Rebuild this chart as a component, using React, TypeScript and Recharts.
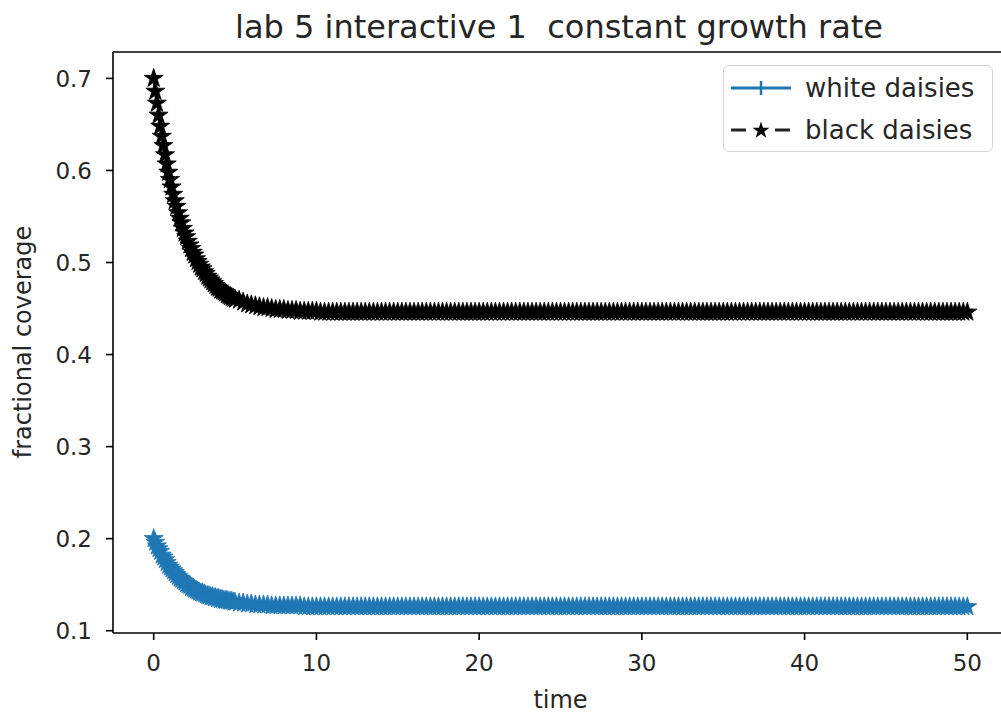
import { LineChart, Line, XAxis, YAxis, ReferenceLine } from 'recharts';

const times = [
  0, 0.1, 0.2, 0.3, 0.4, 0.5, 0.6, 0.7, 0.8, 0.9,
  1, 1.1, 1.2, 1.3, 1.4, 1.5, 1.6, 1.7, 1.8, 1.9,
  2, 2.1, 2.2, 2.3, 2.4, 2.5, 2.6, 2.7, 2.8, 2.9,
  3, 3.1, 3.2, 3.3, 3.4, 3.5, 3.6, 3.7, 3.8, 3.9,
  4, 4.1, 4.2, 4.3, 4.4, 4.5, 4.6, 4.7, 4.8, 4.9,
  5,
  5.25, 5.5, 5.75, 6, 6.25, 6.5, 6.75, 7, 7.25, 7.5,
  7.75, 8, 8.25, 8.5, 8.75, 9, 9.25, 9.5, 9.75, 10,
  10.25, 10.5, 10.75, 11, 11.25, 11.5, 11.75, 12,
  12.25, 12.5, 12.75, 13, 13.25, 13.5, 13.75, 14,
  14.25, 14.5, 14.75, 15, 15.25, 15.5, 15.75, 16,
  16.25, 16.5, 16.75, 17, 17.25, 17.5, 17.75, 18,
  18.25, 18.5, 18.75, 19, 19.25, 19.5, 19.75, 20,
  20.25, 20.5, 20.75, 21, 21.25, 21.5, 21.75, 22,
  22.25, 22.5, 22.75, 23, 23.25, 23.5, 23.75, 24,
  24.25, 24.5, 24.75, 25, 25.25, 25.5, 25.75, 26,
  26.25, 26.5, 26.75, 27, 27.25, 27.5, 27.75, 28,
  28.25, 28.5, 28.75, 29, 29.25, 29.5, 29.75, 30,
  30.25, 30.5, 30.75, 31, 31.25, 31.5, 31.75, 32,
  32.25, 32.5, 32.75, 33, 33.25, 33.5, 33.75, 34,
  34.25, 34.5, 34.75, 35, 35.25, 35.5, 35.75, 36,
  36.25, 36.5, 36.75, 37, 37.25, 37.5, 37.75, 38,
  38.25, 38.5, 38.75, 39, 39.25, 39.5, 39.75, 40,
  40.25, 40.5, 40.75, 41, 41.25, 41.5, 41.75, 42,
  42.25, 42.5, 42.75, 43, 43.25, 43.5, 43.75, 44,
  44.25, 44.5, 44.75, 45, 45.25, 45.5, 45.75, 46,
  46.25, 46.5, 46.75, 47, 47.25, 47.5, 47.75, 48,
  48.25, 48.5, 48.75, 49, 49.25, 49.5, 49.75, 50,
];

const whiteDaisies = [
  0.200, 0.196, 0.192, 0.189, 0.186, 0.182, 0.180, 0.177, 0.174, 0.171,
  0.169, 0.167, 0.165, 0.163, 0.161, 0.159, 0.157, 0.156, 0.154, 0.153,
  0.151, 0.150, 0.149, 0.147, 0.146, 0.145, 0.144, 0.143, 0.142, 0.141,
  0.141, 0.140, 0.139, 0.138, 0.138, 0.137, 0.137, 0.136, 0.136, 0.135,
  0.135, 0.134, 0.134, 0.133, 0.133, 0.133, 0.132, 0.132, 0.132, 0.131,
  0.131,
  0.130, 0.130, 0.129, 0.129, 0.128, 0.128, 0.128, 0.128, 0.127, 0.127,
  0.127, 0.127, 0.127, 0.127, 0.127, 0.127, 0.126, 0.126, 0.126, 0.126,
  0.126, 0.126, 0.126, 0.126, 0.126, 0.126, 0.126, 0.126,
  0.126, 0.126, 0.126, 0.126, 0.126, 0.126, 0.126, 0.126,
  0.126, 0.126, 0.126, 0.126, 0.126, 0.126, 0.126, 0.126,
  0.126, 0.126, 0.126, 0.126, 0.126, 0.126, 0.126, 0.126,
  0.126, 0.126, 0.126, 0.126, 0.126, 0.126, 0.126, 0.126,
  0.126, 0.126, 0.126, 0.126, 0.126, 0.126, 0.126, 0.126,
  0.126, 0.126, 0.126, 0.126, 0.126, 0.126, 0.126, 0.126,
  0.126, 0.126, 0.126, 0.126, 0.126, 0.126, 0.126, 0.126,
  0.126, 0.126, 0.126, 0.126, 0.126, 0.126, 0.126, 0.126,
  0.126, 0.126, 0.126, 0.126, 0.126, 0.126, 0.126, 0.126,
  0.126, 0.126, 0.126, 0.126, 0.126, 0.126, 0.126, 0.126,
  0.126, 0.126, 0.126, 0.126, 0.126, 0.126, 0.126, 0.126,
  0.126, 0.126, 0.126, 0.126, 0.126, 0.126, 0.126, 0.126,
  0.126, 0.126, 0.126, 0.126, 0.126, 0.126, 0.126, 0.126,
  0.126, 0.126, 0.126, 0.126, 0.126, 0.126, 0.126, 0.126,
  0.126, 0.126, 0.126, 0.126, 0.126, 0.126, 0.126, 0.126,
  0.126, 0.126, 0.126, 0.126, 0.126, 0.126, 0.126, 0.126,
  0.126, 0.126, 0.126, 0.126, 0.126, 0.126, 0.126, 0.126,
  0.126, 0.126, 0.126, 0.126, 0.126, 0.126, 0.126, 0.126,
  0.126, 0.126, 0.126, 0.126, 0.126, 0.126, 0.126, 0.126,
];

const blackDaisies = [
  0.700, 0.686, 0.673, 0.660, 0.648, 0.637, 0.627, 0.617, 0.607, 0.598,
  0.590, 0.582, 0.574, 0.567, 0.561, 0.554, 0.548, 0.543, 0.537, 0.532,
  0.528, 0.523, 0.519, 0.515, 0.511, 0.508, 0.504, 0.501, 0.498, 0.495,
  0.493, 0.490, 0.488, 0.485, 0.483, 0.481, 0.479, 0.477, 0.475, 0.473,
  0.472, 0.470, 0.469, 0.468, 0.467, 0.465, 0.464, 0.463, 0.462, 0.461,
  0.460,
  0.459, 0.457, 0.455, 0.454, 0.453, 0.452, 0.451, 0.451, 0.450, 0.449,
  0.449, 0.449, 0.448, 0.448, 0.448, 0.447, 0.447, 0.447, 0.447, 0.447,
  0.446, 0.446, 0.446, 0.446, 0.446, 0.446, 0.446, 0.446,
  0.446, 0.446, 0.446, 0.446, 0.446, 0.446, 0.446, 0.446,
  0.446, 0.446, 0.446, 0.446, 0.446, 0.446, 0.446, 0.446,
  0.446, 0.446, 0.446, 0.446, 0.446, 0.446, 0.446, 0.446,
  0.446, 0.446, 0.446, 0.446, 0.446, 0.446, 0.446, 0.446,
  0.446, 0.446, 0.446, 0.446, 0.446, 0.446, 0.446, 0.446,
  0.446, 0.446, 0.446, 0.446, 0.446, 0.446, 0.446, 0.446,
  0.446, 0.446, 0.446, 0.446, 0.446, 0.446, 0.446, 0.446,
  0.446, 0.446, 0.446, 0.446, 0.446, 0.446, 0.446, 0.446,
  0.446, 0.446, 0.446, 0.446, 0.446, 0.446, 0.446, 0.446,
  0.446, 0.446, 0.446, 0.446, 0.446, 0.446, 0.446, 0.446,
  0.446, 0.446, 0.446, 0.446, 0.446, 0.446, 0.446, 0.446,
  0.446, 0.446, 0.446, 0.446, 0.446, 0.446, 0.446, 0.446,
  0.446, 0.446, 0.446, 0.446, 0.446, 0.446, 0.446, 0.446,
  0.446, 0.446, 0.446, 0.446, 0.446, 0.446, 0.446, 0.446,
  0.446, 0.446, 0.446, 0.446, 0.446, 0.446, 0.446, 0.446,
  0.446, 0.446, 0.446, 0.446, 0.446, 0.446, 0.446, 0.446,
  0.446, 0.446, 0.446, 0.446, 0.446, 0.446, 0.446, 0.446,
  0.446, 0.446, 0.446, 0.446, 0.446, 0.446, 0.446, 0.446,
  0.446, 0.446, 0.446, 0.446, 0.446, 0.446, 0.446, 0.446,
];

const xTicks = [0, 10, 20, 30, 40, 50];
const yTicks = [0.1, 0.2, 0.3, 0.4, 0.5, 0.6, 0.7];

const BLUE = '#1f77b4';
const FONT = 'DejaVu Sans, sans-serif';
const TEXT = '#262626';
const Y_MIN = 0.0975;
const Y_MAX = 0.7287;

const data = times.map((t, i) => ({ t, white: whiteDaisies[i], black: blackDaisies[i] }));

function starPoints(cx: number, cy: number, r: number): string {
  const inner = r * 0.382;
  const pts: string[] = [];
  for (let k = 0; k < 10; k++) {
    const rad = k % 2 === 0 ? r : inner;
    const a = -Math.PI / 2 + (k * Math.PI) / 5;
    pts.push(`${(cx + rad * Math.cos(a)).toFixed(2)},${(cy + rad * Math.sin(a)).toFixed(2)}`);
  }
  return pts.join(' ');
}

function makeStar(color: string, name: string) {
  return (props: any) => {
    const { cx, cy, index } = props;
    if (cx == null || cy == null) return <g key={`${name}-${index}`} />;
    return (
      <polygon
        key={`${name}-${index}`}
        points={starPoints(cx, cy, 10)}
        fill={color}
        stroke={color}
        strokeWidth={0.8}
      />
    );
  };
}

function LegendBox() {
  return (
    <div
      style={{
        position: 'absolute',
        left: 723,
        top: 65,
        width: 270,
        height: 87,
        boxSizing: 'border-box',
        border: '1.5px solid #d4d4d4',
        borderRadius: 6,
        background: '#fff',
        fontFamily: FONT,
        fontSize: 26,
        color: TEXT,
      }}
    >
      <div style={{ position: 'absolute', left: 6, top: 3, display: 'flex', alignItems: 'center', height: 38 }}>
        <svg width={62} height={24}>
          <line x1={1} y1={12} x2={61} y2={12} stroke={BLUE} strokeWidth={3} />
          <line x1={31} y1={5} x2={31} y2={19} stroke={BLUE} strokeWidth={2.5} />
        </svg>
        <span style={{ marginLeft: 13 }}>white daisies</span>
      </div>
      <div style={{ position: 'absolute', left: 6, top: 45, display: 'flex', alignItems: 'center', height: 38 }}>
        <svg width={62} height={24}>
          <line x1={1} y1={12} x2={16} y2={12} stroke="#222" strokeWidth={3} />
          <line x1={45} y1={12} x2={60} y2={12} stroke="#222" strokeWidth={3} />
          <polygon points={starPoints(31, 12.5, 9)} fill="#000" />
        </svg>
        <span style={{ marginLeft: 13 }}>black daisies</span>
      </div>
    </div>
  );
}

const yLabel = () => (
  <text
    x={23}
    y={342}
    transform="rotate(-90 23 342)"
    textAnchor="middle"
    dominantBaseline="central"
    fill={TEXT}
    fontSize={24}
    fontFamily={FONT}
  >
    fractional coverage
  </text>
);

export default function App() {
  return (
    <div style={{ position: 'absolute', left: 0, top: 0, width: 1001, height: 717, overflow: 'hidden', background: '#fff' }}>
      <div
        style={{
          position: 'absolute',
          left: 0,
          width: 1118,
          top: 7,
          textAlign: 'center',
          fontFamily: FONT,
          fontSize: 32,
          color: TEXT,
          lineHeight: '40px',
        }}
      >
        lab 5 interactive 1&nbsp; constant growth rate
      </div>
      <LineChart width={1020} height={717} data={data} margin={{ top: 52, right: 12, bottom: 0, left: 0 }}>
        <XAxis
          dataKey="t"
          type="number"
          domain={[-2.5, 52.5]}
          ticks={xTicks}
          allowDataOverflow
          height={84}
          tickSize={7}
          tickMargin={15}
          axisLine={{ stroke: '#000', strokeWidth: 1.6 }}
          tickLine={{ stroke: '#000', strokeWidth: 1.6 }}
          tick={{ fill: TEXT, fontSize: 23, fontFamily: FONT }}
          label={{ value: 'time', position: 'insideBottom', offset: 9, fill: TEXT, fontSize: 24, fontFamily: FONT }}
        />
        <YAxis
          type="number"
          domain={[Y_MIN, Y_MAX]}
          ticks={yTicks}
          allowDataOverflow
          width={113}
          tickSize={7}
          tickMargin={14}
          tickFormatter={(v: number) => v.toFixed(1)}
          axisLine={{ stroke: '#000', strokeWidth: 1.6 }}
          tickLine={{ stroke: '#000', strokeWidth: 1.6 }}
          tick={{ fill: TEXT, fontSize: 23, fontFamily: FONT }}
          label={{ content: yLabel }}
        />
        <ReferenceLine y={Y_MAX} stroke="#000" strokeWidth={1.6} />
        <Line
          dataKey="white"
          stroke={BLUE}
          strokeWidth={3}
          dot={makeStar(BLUE, 'w')}
          activeDot={false}
          isAnimationActive={false}
        />
        <Line
          dataKey="black"
          stroke="#000"
          strokeWidth={3}
          strokeDasharray="12 5"
          dot={makeStar('#000', 'b')}
          activeDot={false}
          isAnimationActive={false}
        />
      </LineChart>
      <LegendBox />
    </div>
  );
}
